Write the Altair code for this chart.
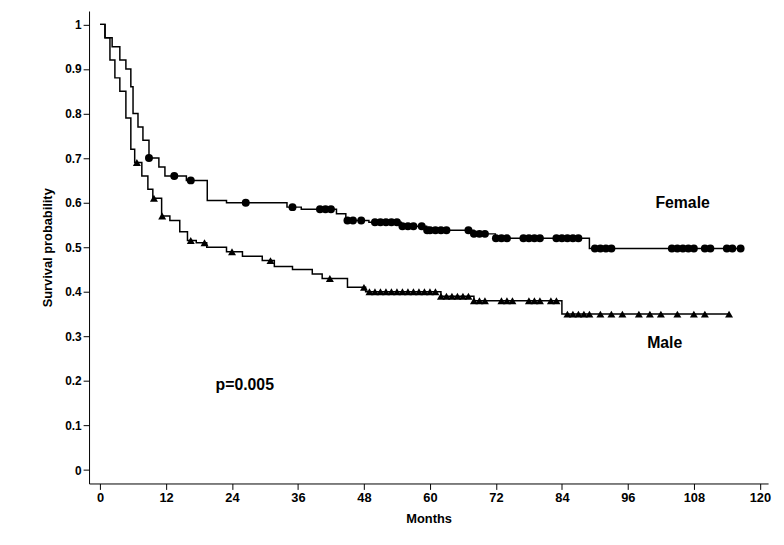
import numpy as np
import pandas as pd
import altair as alt

# step curves (month, survival)
f_t = [0, 0.9, 2.2, 3.6, 4.7, 5.6, 6.0, 6.9, 7.8, 8.9, 10.7, 11.8, 15.7, 19.5, 23, 34, 36.6, 43, 44.7,
       48.9, 54.8, 59.4, 68, 71.9, 89, 116.5]
f_s = [1, 0.97, 0.95, 0.92, 0.90, 0.86, 0.80, 0.77, 0.74, 0.70, 0.68, 0.66, 0.65, 0.605, 0.60, 0.59, 0.585,
       0.575, 0.56, 0.556, 0.547, 0.538, 0.53, 0.52, 0.497, 0.497]
m_t = [0, 0.9, 1.8, 2.7, 3.6, 4.7, 5.6, 6.3, 7.6, 8.7, 9.6, 11.2, 12.7, 14.5, 15.9, 17.5, 19.4, 23, 25.9,
       29.5, 31.7, 35, 38.6, 40.4, 45, 48.3, 62, 68, 84, 114.4]
m_s = [1, 0.97, 0.92, 0.88, 0.85, 0.79, 0.72, 0.69, 0.66, 0.63, 0.61, 0.57, 0.56, 0.535, 0.515, 0.51, 0.50,
       0.49, 0.48, 0.47, 0.457, 0.45, 0.44, 0.43, 0.41, 0.40, 0.39, 0.38, 0.35, 0.35]

# censored times
f_cens = [8.9, 13.5, 16.5, 26.5, 35, 40, 41, 42, 45, 46, 47.5, 50, 51, 52, 53, 54, 55, 56, 57, 58.5, 59.5,
          60, 61, 62, 63, 67, 68, 69, 70, 72, 73, 74, 77, 78, 79, 80, 83, 84, 85, 86, 87, 90, 91, 92, 93,
          104, 105, 106, 107, 108, 110, 111, 114, 115, 116.5]
m_cens = [6.7, 9.8, 11.3, 16.5, 19, 24, 31, 41.8, 48, 49, 50, 51, 52, 53, 54, 55, 56, 57, 58, 59, 60, 61,
          62, 63, 64, 65, 66, 67, 68, 69, 70, 73, 74, 75, 78, 79, 80, 82, 83, 85, 86, 87, 88, 89, 91, 93,
          95, 98, 100, 102, 105, 108, 110, 114.4]


def at(ts, ss, t):
    i = np.searchsorted(ts, t, side="right") - 1
    return ss[i]


curves = pd.concat([
    pd.DataFrame({"t": f_t, "s": f_s, "g": "Female"}),
    pd.DataFrame({"t": m_t, "s": m_s, "g": "Male"}),
])
fc = pd.DataFrame({"t": f_cens, "s": [at(f_t, f_s, t) for t in f_cens]})
mc = pd.DataFrame({"t": m_cens, "s": [at(m_t, m_s, t) for t in m_cens]})

font = "Liberation Sans"
x = alt.X("t:Q", title="Months", scale=alt.Scale(domain=[-2, 121.5], nice=False),
          axis=alt.Axis(values=list(range(0, 121, 12)), grid=False, domainColor="black", tickColor="black",
                        tickSize=6, labelFont=font, labelFontSize=13, labelFontWeight="bold", labelColor="black",
                        titleFont=font, titleFontSize=13, titleColor="black", titlePadding=8))
y = alt.Y("s:Q", title="Survival probability", scale=alt.Scale(domain=[-0.03, 1.03], nice=False),
          axis=alt.Axis(values=[i / 10 for i in range(11)], grid=False, domainColor="black",
                        tickColor="black", tickSize=6, labelFont=font, labelFontSize=12, labelColor="black",
                        labelFontWeight="bold",
                        labelExpr="datum.value == 0 ? '0' : datum.value == 1 ? '1' : format(datum.value, '.1f')",
                        titleFont=font, titleFontSize=13, titleColor="black", titlePadding=10))

lines = alt.Chart(curves).mark_line(interpolate="step-after", color="black", strokeWidth=1.5).encode(
    x=x, y=y, detail="g:N")
circ = alt.Chart(fc).mark_point(shape="circle", filled=True, color="black", size=65, opacity=1).encode(x="t:Q", y="s:Q")
tri = alt.Chart(mc).mark_point(shape="triangle-up", filled=True, color="black", size=65, opacity=1).encode(x="t:Q", y="s:Q")

labels = pd.DataFrame({"t": [101, 99.5, 21], "s": [0.6, 0.285, 0.19], "txt": ["Female", "Male", "p=0.005"]})
txt = alt.Chart(labels).mark_text(font=font, fontSize=16, fontWeight="bold", color="black", align="left").encode(
    x="t:Q", y="s:Q", text="txt:N")

chart = (lines + circ + tri + txt).properties(
    width=687, height=478, padding={"left": 34, "top": 0, "right": 5, "bottom": 0}
).configure_view(stroke=None)
chart.save("out.html", embed_options={"renderer": "svg", "actions": False})
